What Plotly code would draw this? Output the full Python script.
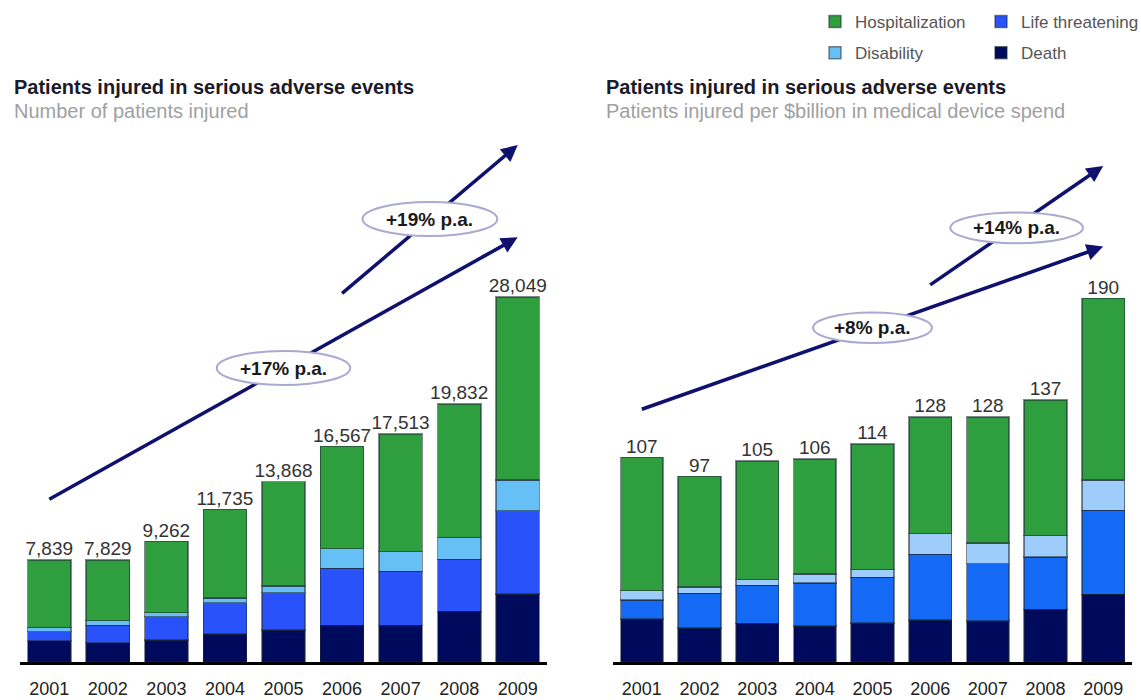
import plotly.graph_objects as go

# ---------------- data ----------------
years = [2001, 2002, 2003, 2004, 2005, 2006, 2007, 2008, 2009]
year_labels = [str(y) for y in years]

# Left panel: number of patients injured
left_totals = [7839, 7829, 9262, 11735, 13868, 16567, 17513, 19832, 28049]
left_death = [1637, 1483, 1691, 2152, 2459, 2820, 2820, 3896, 5226]
left_life = [692, 1337, 1791, 2405, 2866, 4380, 4150, 3996, 6402]
left_disability = [338, 354, 307, 361, 515, 1506, 1506, 1691, 2359]
left_hosp = [5172, 4655, 5473, 6817, 8028, 7861, 9037, 10249, 14062]

# Right panel: patients injured per $billion in medical device spend
right_totals = [107, 97, 105, 106, 114, 128, 128, 137, 190]
right_death = [22.6, 17.8, 20.2, 18.8, 20.5, 21.9, 21.5, 27.5, 35.4]
right_life = [9.8, 18.1, 19.8, 22.6, 23.7, 34.4, 29.9, 27.4, 43.8]
right_disability = [4.9, 3.4, 3.1, 4.5, 4.2, 10.8, 10.7, 11.2, 16.0]
right_hosp = [69.7, 57.7, 61.9, 60.1, 65.6, 60.9, 65.9, 70.9, 94.8]

series_names = ["Death", "Life threatening", "Disability", "Hospitalization"]

# growth arrows: (label, start year, start value, end year, end value, label year, label value)
left_growth = [
    ("+17% p.a.", 2001, 12503, 2009, 32638, 2005.0, 22594),
    ("+19% p.a.", 2006, 28335, 2009, 39731, 2007.5, 34045),
]
right_growth = [
    ("+8% p.a.", 2001, 132.1, 2009, 217.1, 2005.0, 174.7),
    ("+14% p.a.", 2006, 197.1, 2009, 259.3, 2007.5, 226.9),
]

# ---------------- styles ----------------
FONT = "Liberation Sans, Arial, sans-serif"
left_colors = ["#000A5C", "#2952FA", "#66C0F5", "#2E9E3E"]
right_colors = ["#000A5C", "#1469F5", "#9ECDFB", "#2E9E3E"]
legend_of = {"Death": "legend2", "Life threatening": "legend2",
             "Disability": "legend", "Hospitalization": "legend"}
legend_rank = {"Hospitalization": 1, "Disability": 2, "Life threatening": 1, "Death": 2}
ARROW = "#10106E"
W, H = 1141, 700

fig = go.Figure()

left_series = [left_death, left_life, left_disability, left_hosp]
right_series = [right_death, right_life, right_disability, right_hosp]

for name, vals, col in zip(series_names, left_series, left_colors):
    fig.add_trace(go.Bar(
        x=years, y=vals, name=name, marker=dict(color=col, line=dict(color="rgba(30,40,50,0.55)", width=1.5)),
        xaxis="x", yaxis="y", legend=legend_of[name], legendgroup=name,
        legendrank=legend_rank[name], hoverinfo="skip"))
for name, vals, col in zip(series_names, right_series, right_colors):
    fig.add_trace(go.Bar(
        x=years, y=vals, name=name, marker=dict(color=col, line=dict(color="rgba(30,40,50,0.55)", width=1.5)),
        xaxis="x2", yaxis="y2", showlegend=False, legendgroup=name, hoverinfo="skip"))

fig.add_trace(go.Scatter(
    x=years, y=left_totals, mode="text", text=[f"{v:,}" for v in left_totals],
    textposition="top center", textfont=dict(family=FONT, size=19, color="#333"),
    xaxis="x", yaxis="y", showlegend=False, cliponaxis=False, hoverinfo="skip"))
fig.add_trace(go.Scatter(
    x=years, y=right_totals, mode="text", text=[f"{v:,}" for v in right_totals],
    textposition="top center", textfont=dict(family=FONT, size=19, color="#333"),
    xaxis="x2", yaxis="y2", showlegend=False, cliponaxis=False, hoverinfo="skip"))

shapes = []
annotations = []
for growth, xr, yr, yspan in [(left_growth, "x", "y", 50875), (right_growth, "x2", "y2", 346)]:
    ry = yspan * 17 / 662
    # lines
    for lab, x0, y0, x1, y1, lx, ly in growth:
        ex = x1 - 0.03 * (x1 - x0)
        ey = y1 - 0.03 * (y1 - y0)
        shapes.append(dict(type="line", xref=xr, yref=yr, x0=x0, y0=y0, x1=ex, y1=ey,
                           line=dict(color=ARROW, width=3.5), layer="above"))
    # ellipses on top
    for lab, x0, y0, x1, y1, lx, ly in growth:
        rx = 1.15 if len(lab) > 8 else 1.03
        if xr == "x" and lab == "+17% p.a.":
            rx = 1.14
        k = 0.9 if xr == "x2" else 1
        shapes.append(dict(type="circle", xref=xr, yref=yr, x0=lx - rx, x1=lx + rx,
                           y0=ly - ry * k, y1=ly + ry * k,
                           fillcolor="white", line=dict(color="#A9A9D2", width=2), layer="above"))
        annotations.append(dict(xref=xr, yref=yr, x=lx, y=ly, text=f"<b>{lab}</b>", showarrow=False,
                                font=dict(family=FONT, size=19, color="#1a1a1a")))
        # arrowhead
        annotations.append(dict(xref=xr, yref=yr, x=x1, y=y1, axref=xr, ayref=yr,
                                ax=x1 - 0.08 * (x1 - x0), ay=y1 - 0.08 * (y1 - y0),
                                text="", showarrow=True, arrowhead=2, arrowsize=1.1,
                                arrowwidth=3, arrowcolor=ARROW, standoff=0))

# titles
for px, sub in [(12, "Number of patients injured"), (604, "Patients injured per $billion in medical device spend")]:
    annotations.append(dict(xref="paper", yref="paper", x=px / W, y=1 - 87 / H, xanchor="left", yanchor="middle",
                            text="<b>Patients injured in serious adverse events</b>", showarrow=False,
                            font=dict(family=FONT, size=20, color="#1a1a2a")))
    annotations.append(dict(xref="paper", yref="paper", x=px / W, y=1 - 111 / H, xanchor="left", yanchor="middle",
                            text=sub, showarrow=False, font=dict(family=FONT, size=20, color="#A0A0A0")))

axis_common = dict(range=[2000.5, 2009.5], tickmode="array", tickvals=years, ticktext=year_labels,
                   showline=True, linecolor="black", linewidth=3, ticks="", showgrid=False, zeroline=False,
                   tickfont=dict(family=FONT, size=18, color="#222"), ticklabelstandoff=8, fixedrange=True)
ydomain = [38 / H, 1]

legend_common = dict(orientation="v", traceorder="grouped", tracegroupgap=6,
                     font=dict(family=FONT, size=17, color="#555"), bgcolor="rgba(0,0,0,0)",
                     xanchor="left", yanchor="top", y=1 - 4 / H)

fig.update_layout(
    width=W, height=H, margin=dict(l=0, r=0, t=0, b=0, autoexpand=False),
    paper_bgcolor="white", plot_bgcolor="white",
    barmode="stack", bargap=0.26,
    font=dict(family=FONT),
    xaxis=dict(domain=[20 / W, 547 / W], anchor="y", **axis_common),
    yaxis=dict(domain=ydomain, range=[0, 50875], visible=False, fixedrange=True),
    xaxis2=dict(domain=[613 / W, 1132 / W], anchor="y2", **axis_common),
    yaxis2=dict(domain=ydomain, range=[0, 346], visible=False, fixedrange=True),
    legend=dict(x=815 / W, **legend_common),
    legend2=dict(x=981 / W, **legend_common),
    shapes=shapes, annotations=annotations,
)

fig.write_html("out.html")
